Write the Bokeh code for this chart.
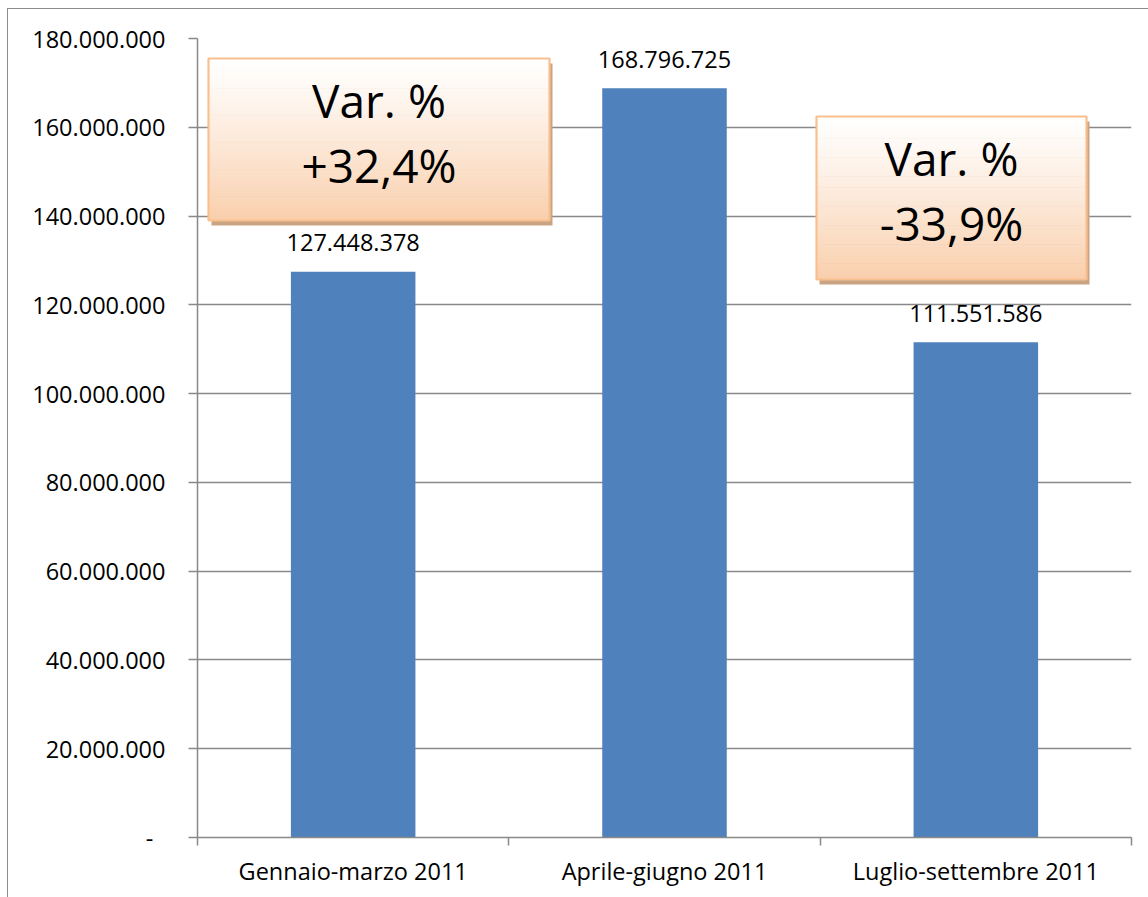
from bokeh.plotting import figure
from bokeh.models import Range1d, FixedTicker, ColumnDataSource
from bokeh.core.properties import value
from bokeh.embed import file_html
from bokeh.resources import INLINE

# ---------------- data ----------------
categories = ["Gennaio-marzo 2011", "Aprile-giugno 2011", "Luglio-settembre 2011"]
values = [127448378, 168796725, 111551586]
y_ticks = [0, 20000000, 40000000, 60000000, 80000000,
           100000000, 120000000, 140000000, 160000000, 180000000]


def fmt_it(v):
    return f"{v:,}".replace(",", ".")


def fmt_pct(a, b):
    return f"{(b / a - 1) * 100:+.1f}%".replace(".", ",")


var_labels = [fmt_pct(values[0], values[1]), fmt_pct(values[1], values[2])]

# ---------------- layout constants (canvas pixels) ----------------
FONT = "Open Sans"
SMALL = "23.5px"
BIG = "46px"
FRAME_LEFT, FRAME_TOP, FRAME_W, FRAME_H = 197, 38, 934, 799
FRAME_BOTTOM = FRAME_TOP + FRAME_H
Y_MAX = y_ticks[-1]
N_CAT = len(categories)
GRAY = "#898989"
EDGE = "#8c8c8c"

p = figure(
    frame_width=FRAME_W, frame_height=FRAME_H,
    min_border_left=FRAME_LEFT, min_border_right=17,
    min_border_top=FRAME_TOP, min_border_bottom=60,
    x_range=Range1d(0, N_CAT), y_range=Range1d(0, Y_MAX),
    output_backend="svg", toolbar_location=None, tools="",
    background_fill_color="white", border_fill_color=None,
    styles={
        "background-color": "white",
        "background-image": f"linear-gradient({EDGE},{EDGE}), linear-gradient({EDGE},{EDGE})",
        "background-position": "7px 8px, 7px 8px",
        "background-size": "1px 100%, 100% 1px",
        "background-repeat": "no-repeat",
    },
)
p.outline_line_color = None

# ---- y axis ----
yax = p.yaxis[0]
yax.ticker = FixedTicker(ticks=y_ticks, minor_ticks=[])
yax.major_label_overrides = {t: (fmt_it(t) if t else "-\u00a0\u00a0") for t in y_ticks}
yax.axis_line_color = GRAY
yax.axis_line_width = 1.5
yax.major_tick_line_color = GRAY
yax.major_tick_line_width = 1.5
yax.major_tick_out = 9
yax.major_tick_in = 0
yax.minor_tick_line_color = None
yax.major_label_standoff = 23
yax.major_label_text_font = FONT
yax.major_label_text_font_size = SMALL
yax.major_label_text_color = "black"

# ---- x axis ----
centers = [i + 0.5 for i in range(N_CAT)]
bounds = [float(i) for i in range(N_CAT + 1)]
xax = p.xaxis[0]
xax.ticker = FixedTicker(ticks=centers, minor_ticks=bounds)
xax.major_label_overrides = {c: cat for c, cat in zip(centers, categories)}
xax.axis_line_color = GRAY
xax.axis_line_width = 1.5
xax.major_tick_line_color = None
xax.major_tick_out = 0
xax.major_tick_in = 0
xax.minor_tick_line_color = GRAY
xax.minor_tick_line_width = 1.5
xax.minor_tick_out = 8
xax.minor_tick_in = 0
xax.major_label_standoff = 9
xax.major_label_text_font = FONT
xax.major_label_text_font_size = SMALL
xax.major_label_text_color = "black"

# ---- grid ----
p.xgrid.visible = False
p.ygrid.ticker = FixedTicker(ticks=y_ticks)
p.ygrid.grid_line_color = GRAY
p.ygrid.grid_line_width = 1.5

# ---- bars ----
src = ColumnDataSource(dict(x=centers, top=values, lab=[fmt_it(v) for v in values]))
p.vbar(x="x", top="top", width=0.4, source=src, fill_color="#4f81bd", line_color=None)
p.text(x="x", y="top", text="lab", source=src, y_offset=-29,
       text_align="center", text_baseline="alphabetic",
       text_font=value(FONT), text_font_size=SMALL, text_color="black")


# ---------------- annotation boxes ----------------
def xd(px):
    return (px - FRAME_LEFT) / FRAME_W * N_CAT


def yd(py):
    return (FRAME_BOTTOM - py) / FRAME_H * Y_MAX


def lerp_color(c0, c1, t):
    return "#%02x%02x%02x" % tuple(round(a + (b - a) * t) for a, b in zip(c0, c1))


boxes = [
    dict(rect=(208, 58, 549, 220), lines=["Var. %", var_labels[0]]),
    dict(rect=(816, 116, 1086, 279), lines=["Var. %", var_labels[1]]),
]
TOP_C = (255, 255, 255)
BOT_C = (249, 207, 172)
N_STRIPS = 60
for b in boxes:
    l, t, r, btm = b["rect"]
    # shadow
    p.quad(left=[xd(l + 3)], right=[xd(r + 3)], top=[yd(t + 5)], bottom=[yd(btm + 5)],
           fill_color="#c9a483", line_color=None)
    # gradient fill
    h = (btm - t) / N_STRIPS
    L, R, T, B, C = [], [], [], [], []
    for k in range(N_STRIPS):
        L.append(xd(l)); R.append(xd(r))
        T.append(yd(t + k * h)); B.append(yd(t + (k + 1) * h + 0.6))
        C.append(lerp_color(TOP_C, BOT_C, ((k + 0.5) / N_STRIPS) ** 1.15))
    p.quad(left=L, right=R, top=T, bottom=B, fill_color=C, line_color=None)
    # border
    p.quad(left=[xd(l)], right=[xd(r)], top=[yd(t)], bottom=[yd(btm)],
           fill_color=None, line_color="#f9bf8f", line_width=2.2)
    cx = (l + r) / 2
    p.text(x=[xd(cx), xd(cx)], y=[yd(t + 41), yd(t + 106)], text=b["lines"],
           text_align="center", text_baseline="alphabetic",
           text_font=value(FONT), text_font_size=BIG, text_color="black")

open("out.html", "w").write(file_html(p, INLINE))
